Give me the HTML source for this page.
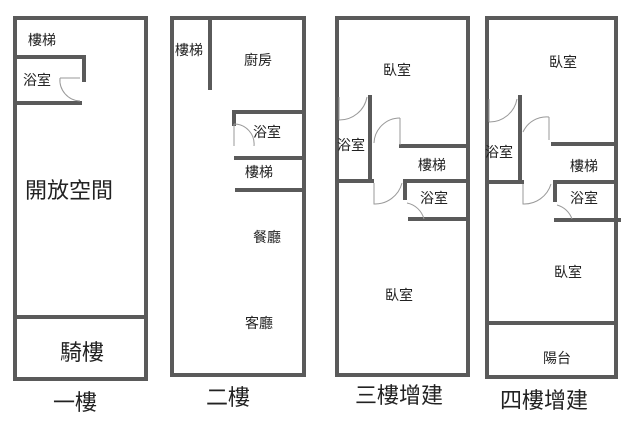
<!DOCTYPE html>
<html><head><meta charset="utf-8"><style>
body{margin:0;background:#fff;width:640px;height:430px;overflow:hidden}
svg text{font-family:"Liberation Sans","Noto Sans CJK TC",sans-serif;fill:#222}
</style></head><body>
<svg width="640" height="430" viewBox="0 0 640 430">
<g stroke="#5a5a5a" stroke-width="4" fill="none" stroke-linecap="square">
<!-- plan1 -->
<rect x="15" y="18" width="131" height="361"/>
<line x1="15" y1="57" x2="84" y2="57"/><line x1="84" y1="57" x2="84" y2="80"/>
<line x1="15" y1="103" x2="80" y2="103"/>
<line x1="15" y1="317" x2="146" y2="317"/>
<!-- plan2 -->
<rect x="172" y="18" width="132" height="357"/>
<line x1="210" y1="22" x2="210" y2="88"/>
<line x1="234" y1="112" x2="300" y2="112"/><line x1="234" y1="112" x2="234" y2="124"/>
<line x1="236" y1="158" x2="304" y2="158"/>
<line x1="237" y1="190" x2="304" y2="190"/>
<!-- plan3 -->
<rect x="337" y="18" width="131" height="357"/>
<line x1="370" y1="97" x2="370" y2="180"/>
<line x1="401" y1="146" x2="468" y2="146"/>
<line x1="337" y1="181" x2="372" y2="181"/>
<line x1="405" y1="181" x2="468" y2="181"/><line x1="405" y1="181" x2="405" y2="198"/>
<line x1="410" y1="219" x2="468" y2="219"/>
<!-- plan4 -->
<rect x="487" y="18" width="129" height="359"/>
<line x1="520" y1="97" x2="520" y2="180"/>
<line x1="553" y1="144" x2="616" y2="144"/>
<line x1="487" y1="182" x2="522" y2="182"/>
<line x1="555" y1="182" x2="616" y2="182"/><line x1="555" y1="182" x2="555" y2="200"/>
<line x1="556" y1="220" x2="619" y2="220"/>
<line x1="487" y1="323" x2="616" y2="323"/>
</g>
<g stroke="#999" stroke-width="1" fill="none">
<path d="M60 78 A21 21 0 0 0 80 101"/><line x1="60" y1="78" x2="80" y2="78"/>
<path d="M234 124 A20 20 0 0 1 254 146"/><line x1="234" y1="124" x2="234" y2="146"/>
<path d="M339 120 A28 28 0 0 0 367 97"/><line x1="339" y1="97" x2="339" y2="120"/>
<path d="M374 143 A26 26 0 0 1 400 118"/><line x1="400" y1="118" x2="400" y2="145"/>
<path d="M374 183 L374 204 A28 28 0 0 0 402 183"/>
<path d="M407 203 A22 22 0 0 1 424 219"/>
<path d="M489 122 A28 28 0 0 0 517 99"/><line x1="489" y1="99" x2="489" y2="122"/>
<path d="M523 132 A26 26 0 0 1 549 117"/><line x1="549" y1="117" x2="549" y2="140"/>
<path d="M523 184 L523 204 A28 28 0 0 0 551 184"/>
<path d="M557 205 A22 22 0 0 1 572 219"/>
</g>
<g font-size="14">
<text x="28" y="45">樓梯</text><text x="23" y="85">浴室</text>
<text x="175" y="55">樓梯</text><text x="244" y="65">廚房</text>
<text x="253" y="137">浴室</text><text x="245" y="177">樓梯</text>
<text x="253" y="242">餐廳</text><text x="245" y="328">客廳</text>
<text x="383" y="75">臥室</text><text x="337" y="150">浴室</text>
<text x="418" y="170">樓梯</text><text x="420" y="203">浴室</text>
<text x="385" y="300">臥室</text>
<text x="549" y="67">臥室</text><text x="485" y="157">浴室</text>
<text x="570" y="171">樓梯</text><text x="570" y="203">浴室</text>
<text x="554" y="277">臥室</text><text x="543" y="363">陽台</text>
</g>
<g font-size="22">
<text x="25" y="198">開放空間</text>
<text x="60" y="360">騎樓</text>
<text x="53" y="410">一樓</text>
<text x="206" y="405">二樓</text>
<text x="355" y="403">三樓增建</text>
<text x="500" y="408">四樓增建</text>
</g>
</svg>
</body></html>
